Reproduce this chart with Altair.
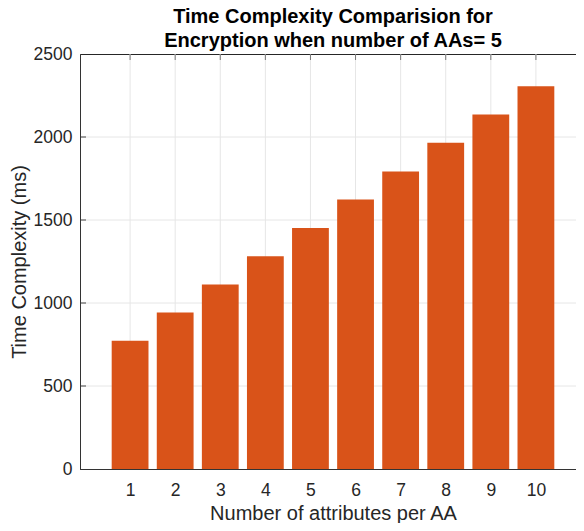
import altair as alt
import pandas as pd

# ---- data ----
attributes = [1, 2, 3, 4, 5, 6, 7, 8, 9, 10]
time_ms = [772, 943, 1112, 1281, 1452, 1623, 1792, 1965, 2136, 2305]
x_ticks = [1, 2, 3, 4, 5, 6, 7, 8, 9, 10]
y_ticks = [0, 500, 1000, 1500, 2000, 2500]
y_inner = [500, 1000, 1500, 2000]

title_lines = ["Time Complexity Comparision for", "Encryption when number of AAs= 5"]
x_title = "Number of attributes per AA"
y_title = "Time Complexity (ms)"

BAR = "#D95319"
TEXT = "#262626"
GRID = "#e6e6e6"
FONT = "Liberation Sans"
W, H = 506, 415

bars_df = pd.DataFrame({"n": attributes, "t": time_ms})
xt_df = pd.DataFrame({"n": x_ticks})
yt_df = pd.DataFrame({"t": y_inner})

x_scale = alt.Scale(domain=[0, 11], nice=False, zero=False)
y_scale = alt.Scale(domain=[0, 2500], nice=False)

x_axis = alt.Axis(
    values=x_ticks, title=x_title, grid=False, ticks=False, tickSize=0, format="d",
    labelPadding=12, labelFontSize=17.5, labelColor=TEXT, labelFont=FONT,
    titleFontSize=20, titleColor=TEXT, titleFont=FONT, titleFontWeight="normal",
    titleBaseline="alphabetic", titleY=50,
    domainColor="#333333", zindex=1,
)
y_axis = alt.Axis(
    values=y_ticks, title=y_title, grid=False, ticks=False, tickSize=0, format="d",
    labelPadding=8, labelFontSize=17.5, labelColor=TEXT, labelFont=FONT,
    titleFontSize=20, titleColor=TEXT, titleFont=FONT, titleFontWeight="normal",
    titleBaseline="alphabetic", titleX=-55,
    domainColor="#333333", zindex=1,
)

X = alt.X("n:Q", scale=x_scale, axis=x_axis)
Y = alt.Y("t:Q", scale=y_scale, axis=y_axis)

xgrid = alt.Chart(xt_df).mark_rule(color=GRID, strokeWidth=1).encode(
    x=X, y=alt.value(0), y2=alt.value(H),
)
ygrid = alt.Chart(yt_df).mark_rule(color=GRID, strokeWidth=1).encode(
    y=Y, x=alt.value(0), x2=alt.value(W),
)

bars = alt.Chart(bars_df).mark_bar(color=BAR, size=36.8, orient="vertical").encode(
    x=X, y=Y,
)

top_ticks = alt.Chart(xt_df).mark_rule(color="#777777").encode(
    x=X, y=alt.value(0), y2=alt.value(6),
)
left_ticks = alt.Chart(yt_df).mark_rule(color="#444444").encode(
    y=Y, x=alt.value(0), x2=alt.value(6),
)
right_ticks = alt.Chart(yt_df).mark_rule(color="#444444").encode(
    y=Y, x=alt.value(W - 6), x2=alt.value(W),
)

chart = alt.layer(xgrid, ygrid, bars, top_ticks, left_ticks, right_ticks).properties(
    width=W,
    height=H,
    autosize=alt.AutoSizeParams(type="none"),
    padding={"left": 72, "top": 46, "right": -10, "bottom": 54},
    title=alt.TitleParams(
        title_lines, fontSize=20, fontWeight="bold", font=FONT, color="#000000",
        anchor="middle", frame="group", offset=-6, lineHeight=24,
    ),
).configure(font=FONT).configure_view(stroke="#262626", strokeWidth=1)

chart.save("out.html", embed_options={"renderer": "svg", "actions": False})
